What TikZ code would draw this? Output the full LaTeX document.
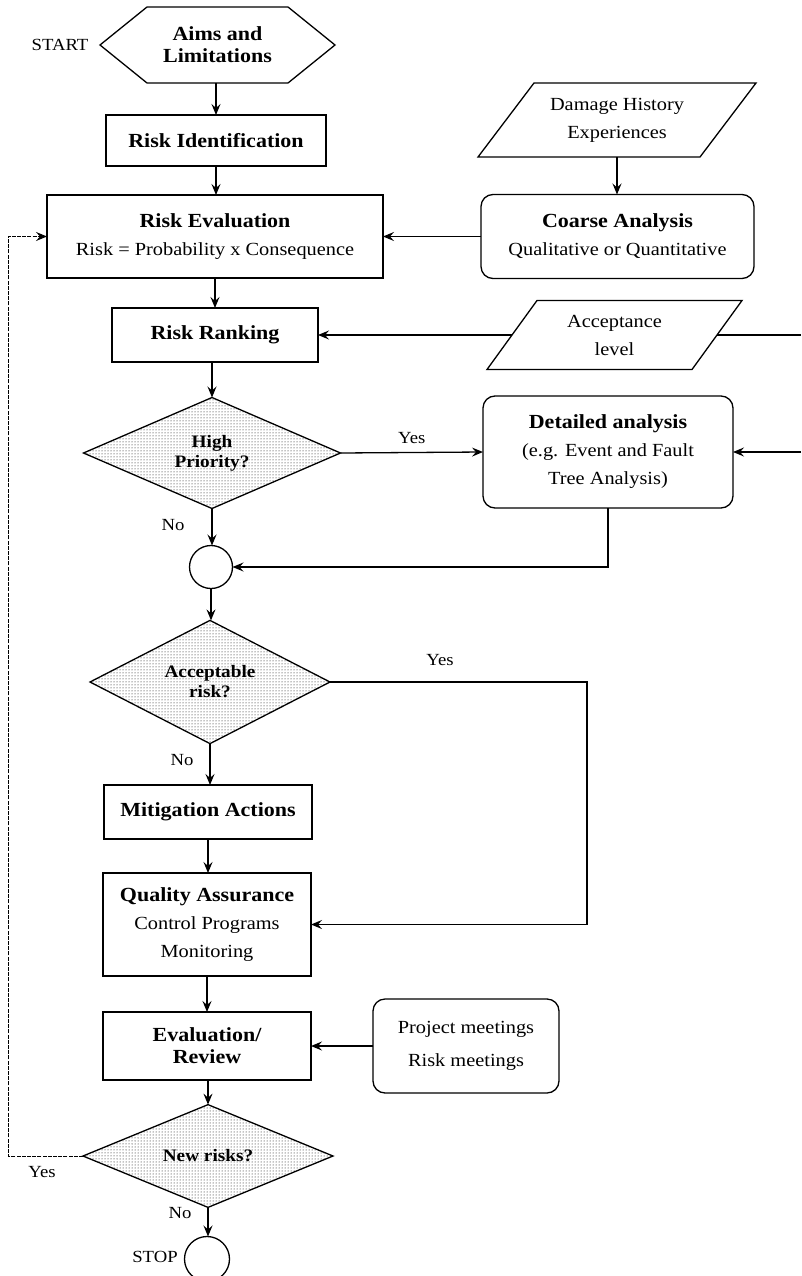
\documentclass[tikz,border=0pt]{standalone}
\usepackage{fontspec}
\setmainfont[FakeStretch=1.1]{Liberation Serif}
\usetikzlibrary{shapes.geometric,arrows.meta,patterns,calc}
\begin{document}
\begin{tikzpicture}[x=1pt,y=-1pt,
  every node/.style={inner sep=0pt, outer sep=0pt, align=center},
  ln/.style={line width=1.3pt},
  tip/.style={-{Stealth[length=11pt,width=9pt,inset=4pt]}},
  arr/.style={line width=1.3pt, tip},
  loopln/.style={line width=1pt, dash pattern=on 4pt off 1.2pt},
  procbox/.style={draw, line width=1.3pt, rectangle},
  rbox/.style={draw, line width=1.3pt, rectangle, rounded corners=12pt},
  decis/.style={draw, line width=1.3pt, diamond, pattern=dots, pattern color=black},
  bt/.style={font=\fontsize{20}{22}\selectfont\bfseries},
  dt/.style={font=\fontsize{17.5}{20}\selectfont\bfseries},
  rt/.style={font=\fontsize{18.5}{28}\selectfont},
  lbl/.style={font=\fontsize{17}{20}\selectfont},
]
\useasboundingbox (0,0) rectangle (801,1276);

% Aims and Limitations hexagon
\draw[ln] (100,45) -- (147,7) -- (288,7) -- (335,45) -- (288,83) -- (147,83) -- cycle;
\node[bt, minimum width=188, minimum height=76] (aims) at (217.5,45) {Aims and\\Limitations};
\node[lbl] (start) at (60,45) {START};

\node[procbox, bt, minimum width=220, minimum height=51] (ident) at (216,140.5) {Risk Identification};

\node[procbox, rt, minimum width=336, minimum height=83] (eval) at (215,236.5)
  {{\fontsize{20}{28}\selectfont\bfseries Risk Evaluation}\\Risk = Probability x Consequence};

% Damage History parallelogram
\draw[ln] (534,83) -- (756,83) -- (700,157) -- (478,157) -- cycle;
\node[rt, minimum width=222, minimum height=74] (damage) at (617,120) {Damage History\\Experiences};

\node[rbox, rt, minimum width=273, minimum height=84] (coarse) at (617.5,236.5)
  {{\fontsize{20}{28}\selectfont\bfseries Coarse Analysis}\\Qualitative or Quantitative};

\node[procbox, bt, minimum width=206, minimum height=54] (rank) at (215,335) {Risk Ranking};

% Acceptance level parallelogram
\draw[ln] (537,300.5) -- (742,300.5) -- (692,369.5) -- (487,369.5) -- cycle;
\node[rt, minimum width=205, minimum height=69] (acc) at (614.5,335) {Acceptance\\level};
\coordinate (accR) at (801,335);

\node[decis, dt, minimum width=257, minimum height=111] (hp) at (212,453) {High\\Priority?};

\node[rbox, rt, minimum width=250, minimum height=112] (det) at (608,452)
  {{\fontsize{20}{28}\selectfont\bfseries Detailed analysis}\\(e.g. Event and Fault\\Tree Analysis)};
\coordinate (detR) at (801,452);

\node[draw, ln, circle, minimum size=43] (c1) at (211,567) {};

\node[decis, dt, minimum width=240, minimum height=121] (acc2) at (210,682) {Acceptable\\risk?};
\coordinate (yk) at (587,682);

\node[procbox, bt, minimum width=208, minimum height=54] (mit) at (208,812) {Mitigation Actions};

\node[procbox, rt, minimum width=208, minimum height=103] (qa) at (207,924.5)
  {{\fontsize{20}{26}\selectfont\bfseries Quality Assurance}\\Control Programs\\Monitoring};

\node[procbox, bt, minimum width=208, minimum height=68] (evr) at (207,1046) {Evaluation/\\Review};

\node[rbox, font=\fontsize{18.5}{33}\selectfont, minimum width=186, minimum height=94] (proj) at (466,1046)
  {Project meetings\\Risk meetings};

\node[decis, dt, minimum width=250, minimum height=83] (nr) at (208,1156) {New risks?};
\coordinate (lb) at (8,1156);
\coordinate (lt) at (8,236.5);

\node[draw, ln, circle, minimum size=45] (stop) at (207,1259) {};
\node[lbl] (stoplbl) at (155,1257) {STOP};

% connectors
\draw[arr] (ident.north |- aims.south) -- (ident.north);
\draw[arr] (ident.south) -- (ident.south |- eval.north);
\draw[arr] (damage.south) -- (damage.south |- coarse.north);
\draw[arr] (coarse.west) -- (eval.east);
\draw[arr] (rank.north |- eval.south) -- (rank.north);
\draw[arr] (acc.west) -- (rank.east);
\draw[ln] (acc.east) -- (accR);
\draw[arr] (detR) -- (det.east);
\draw[arr] (hp.north |- rank.south) -- (hp.north);
\draw[arr] (hp.east) -- node[lbl, above=9pt] (yes1) {Yes} (det.west);
\draw[arr] (hp.south) -- (hp.south |- c1.north);
\node[lbl] (no1) at (173,525) {No};
\draw[arr] (det.south) |- (c1.east);
\draw[arr] (c1.south) -- (c1.south |- acc2.north);
\draw[arr] (acc2.east) -- (yk) |- (qa.east);
\node[lbl] (yes2) at (440,660) {Yes};
\draw[arr] (acc2.south) -- (acc2.south |- mit.north);
\node[lbl] (no2) at (182,760) {No};
\draw[arr] (mit.south) -- (mit.south |- qa.north);
\draw[arr] (qa.south) -- (qa.south |- evr.north);
\draw[arr] (proj.west) -- (evr.east);
\draw[arr] (nr.north |- evr.south) -- (nr.north);
\draw[loopln, tip] (nr.west) -- (lb) -- (lt) -- (eval.west);
\node[lbl] (yes3) at (42,1172) {Yes};
\draw[arr] (nr.south) -- (nr.south |- stop.north);
\node[lbl] (no3) at (180,1213) {No};
\end{tikzpicture}
\end{document}
